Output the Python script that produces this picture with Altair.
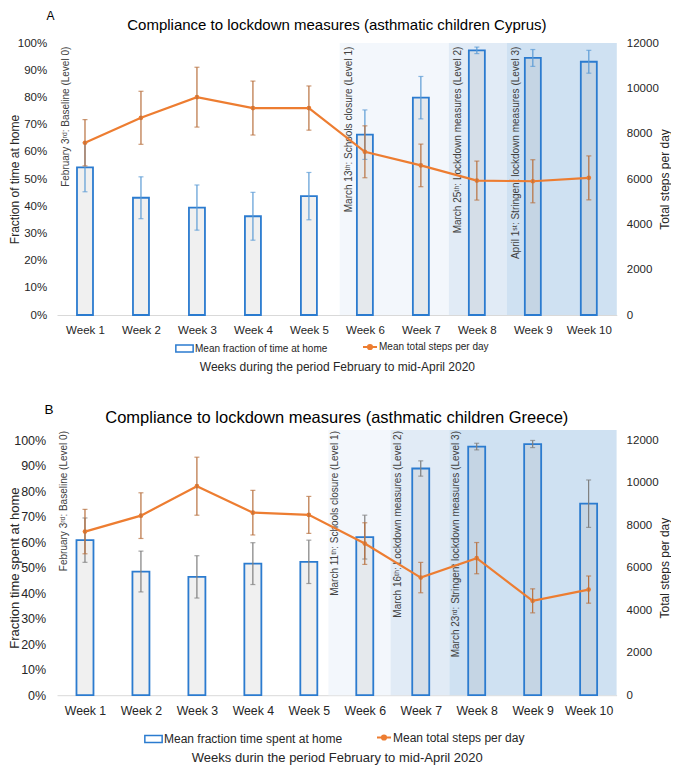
import json
import altair as alt
import pandas as pd

# ---------------- data ----------------
weeks = ["Week 1", "Week 2", "Week 3", "Week 4", "Week 5",
         "Week 6", "Week 7", "Week 8", "Week 9", "Week 10"]

# Panel A (Cyprus)
a_frac = [54.3, 43.1, 39.5, 36.3, 43.7, 66.3, 79.9, 97.3, 94.5, 93.1]
a_frac_err = [9.0, 7.7, 8.3, 8.8, 8.7, 9.1, 7.8, 1.2, 3.1, 4.2]
a_steps = [7600, 8700, 9610, 9130, 9130, 7200, 6600, 5930, 5900, 6050]
a_steps_err = [1020, 1170, 1320, 1190, 975, 1145, 940, 860, 950, 970]
a_region_start = [5.05, 7.0, 8.03]
a_region_end = [7.0, 8.03, 10.0]
a_note_pos = [0.0, 5.05, 7.0, 8.03]
a_notes = ["February 3ʳᵈ: Baseline (Level 0)",
           "March 13ᵗʰ: Schools closure (Level 1)",
           "March 25ᵗʰ: Lockdown measures (Level 2)",
           "April 1ˢᵗ: Stringent lockdown measures (Level 3)"]

# Panel B (Greece)
b_frac = [60.8, 48.5, 46.4, 51.6, 52.3, 62.0, 88.9, 97.5, 98.5, 75.1]
b_frac_err = [8.7, 8.0, 8.3, 8.2, 8.5, 8.6, 3.0, 1.3, 1.4, 9.3]
b_steps = [7700, 8450, 9835, 8590, 8485, 7135, 5535, 6450, 4440, 4970]
b_steps_err = [1045, 1075, 1365, 1050, 870, 980, 715, 735, 565, 640]
b_region_start = [4.85, 5.96, 7.01]
b_region_end = [5.96, 7.01, 10.0]
b_note_pos = [0.0, 4.85, 5.96, 7.01]
b_notes = ["February 3ʳᵈ: Baseline (Level 0)",
           "March 11ᵗʰ: Schools closure (Level 1)",
           "March 16ᵗʰ: Lockdown measures (Level 2)",
           "March 23ʳᵈ: Stringent lockdown measures (Level 3)"]

region_colors = ["#f3f7fc", "#e1ebf6", "#cfe1f2"]
pct_ticks = [0, 0.1, 0.2, 0.3, 0.4, 0.5, 0.6, 0.7, 0.8, 0.9, 1.0]
step_ticks = [0, 2000, 4000, 6000, 8000, 10000, 12000]

BLUE = "#2b7bcf"
ORANGE = "#ed7d31"
BROWN = "#b8703e"
FONT = "Liberation Sans"
TXT = "#262626"


def build_panel(c):
    n = len(weeks)
    pos = [i + 0.5 for i in range(n)]
    df = pd.DataFrame({
        "week": weeks,
        "pos": pos,
        "frac": [v / 100 for v in c["frac"]],
        "frac_lo": [(v - e) / 100 for v, e in zip(c["frac"], c["frac_err"])],
        "frac_hi": [(v + e) / 100 for v, e in zip(c["frac"], c["frac_err"])],
        "steps": c["steps"],
        "steps_lo": [v - e for v, e in zip(c["steps"], c["steps_err"])],
        "steps_hi": [v + e for v, e in zip(c["steps"], c["steps_err"])],
        "bar_series": c["bar_label"],
        "line_series": "Mean total steps per day",
    })
    regions = pd.DataFrame({
        "start": c["rs"], "end": c["re"], "level": ["L1", "L2", "L3"],
        "y0": 0.0, "y1": c["ytop"],
    })
    notes = pd.DataFrame({"pos": c["note_pos"], "text": c["notes"]})
    heads = pd.DataFrame({"t": [c["letter"]], "title": [c["title"]]})

    xscale = alt.Scale(domain=[0, n], nice=False, zero=False, padding=0)
    lscale = alt.Scale(domain=[0, c["ytop"]], nice=False, zero=True, padding=0)
    rscale = alt.Scale(domain=[0, 12000 * c["ytop"]], nice=False, zero=True, padding=0)

    x_axis = alt.Axis(
        values=pos, labelExpr=f"{json.dumps(weeks)}[floor(datum.value)]",
        labelFontSize=c["xfs"], labelPadding=c["xlp"], labelColor=TXT,
        ticks=False, tickSize=0, domain=True, domainColor="#d9d9d9", domainWidth=1,
        grid=False, title=c["xtitle"], titleFontSize=c["xtfs"], titleFontWeight="normal",
        titleColor=TXT, titleY=c["xty"], titleBaseline="middle", labelFlush=False,
    )
    left_axis = alt.Axis(
        values=pct_ticks, format=".0%", labelFontSize=c["lfs"], labelPadding=c["llp"],
        labelColor=TXT, ticks=False, tickSize=0, domain=False, grid=False,
        title=c["ytitle"], titleFontSize=c["ytfs"], titleFontWeight="normal", titleColor=TXT,
        titleAngle=270, titleX=c["ltx"], titleY=c["ty"], titleBaseline="middle",
        titleAlign="center",
    )
    right_axis = alt.Axis(
        orient="right", values=step_ticks, format="d", labelFontSize=c["rfs"],
        labelPadding=c["rlp"], labelColor=TXT, ticks=False, tickSize=0, domain=False,
        grid=False, title="Total steps per day", titleFontSize=c["rtfs"],
        titleFontWeight="normal", titleColor=TXT, titleAngle=270, titleX=c["rtx"],
        titleY=c["ty"], titleBaseline="middle", titleAlign="center",
    )

    X = alt.X("pos:Q", scale=xscale, axis=x_axis)

    def YL(f):
        return alt.Y(f, scale=lscale, axis=left_axis)

    def YR(f):
        return alt.Y(f, scale=rscale, axis=right_axis)

    reg = alt.Chart(regions).mark_rect().encode(
        x=alt.X("start:Q", scale=xscale, axis=x_axis), x2="end:Q",
        y=YL("y0:Q"), y2="y1:Q",
        fill=alt.Fill("level:N", scale=alt.Scale(domain=["L1", "L2", "L3"], range=region_colors), legend=None),
    )
    bar_fill = alt.Chart(df).mark_bar(size=c["barw"], color="#808080", fillOpacity=0.12, strokeWidth=0).encode(
        x=X, y=YL("frac:Q"))
    bar_line = alt.Chart(df).mark_bar(size=c["barw"], filled=False, strokeWidth=1.8).encode(
        x=X, y=YL("frac:Q"),
        stroke=alt.Stroke("bar_series:N", scale=alt.Scale(domain=[c["bar_label"]], range=[BLUE]),
                          legend=alt.Legend(orient="none", legendX=c["lg1x"], legendY=c["lgy"],
                                            direction="horizontal", title=None,
                                            symbolType="M-1,-0.4H1V0.4H-1Z", symbolSize=300,
                                            symbolStrokeWidth=1.5, symbolFillColor="#f0f0f0",
                                            labelFontSize=c["lgfs"], labelColor=TXT, labelOffset=1,
                                            labelLimit=500, padding=0, labelFont=FONT)),
    )
    bar_rule = alt.Chart(df).mark_rule(color=c["barerr"], strokeWidth=1.2).encode(
        x=X, y=YL("frac_lo:Q"), y2="frac_hi:Q")
    bar_cap_lo = alt.Chart(df).mark_tick(color=c["barerr"], orient="horizontal", size=5, thickness=1.2).encode(
        x=X, y=YL("frac_lo:Q"))
    bar_cap_hi = alt.Chart(df).mark_tick(color=c["barerr"], orient="horizontal", size=5, thickness=1.2).encode(
        x=X, y=YL("frac_hi:Q"))
    note_txt = alt.Chart(notes).mark_text(angle=270, align="right", baseline="middle",
                                          fontSize=10, color="#404040", dy=c["notedy"]).encode(
        x=alt.X("pos:Q", scale=xscale, axis=x_axis), y=alt.value(c["notey"]), text="text:N")
    letter_txt = alt.Chart(heads).mark_text(align="center", baseline="top",
                                            fontSize=c["letfs"], color="#000000").encode(
        x=alt.value(c["letx"]), y=alt.value(c["lety"]), text="t:N")
    title_txt = alt.Chart(heads).mark_text(align="center", baseline="top",
                                           fontSize=c["tfs"], color="#000000").encode(
        x=alt.value(c["w"] / 2), y=alt.value(c["titley"]), text="title:N")

    left = alt.layer(reg, bar_fill, bar_line, bar_rule, bar_cap_lo, bar_cap_hi,
                     note_txt, letter_txt, title_txt)

    line = alt.Chart(df).mark_line(strokeWidth=2.2).encode(
        x=X, y=YR("steps:Q"),
        color=alt.Color("line_series:N", scale=alt.Scale(domain=["Mean total steps per day"], range=[ORANGE]),
                        legend=alt.Legend(orient="none", legendX=c["lg2x"], legendY=c["lgy"],
                                          direction="horizontal", title=None,
                                          symbolType="M-1,0H1M-0.3,0A0.3,0.3,0,1,0,0.3,0A0.3,0.3,0,1,0,-0.3,0",
                                          symbolSize=196, symbolStrokeWidth=2,
                                          symbolFillColor=ORANGE,
                                          labelFontSize=c["lgfs"], labelColor=TXT, labelOffset=1,
                                          labelLimit=500, padding=0, labelFont=FONT)),
    )
    pts = alt.Chart(df).mark_point(filled=True, size=22, color=ORANGE, opacity=1).encode(
        x=X, y=YR("steps:Q"))
    st_rule = alt.Chart(df).mark_rule(color=BROWN, strokeWidth=1.2).encode(
        x=X, y=YR("steps_lo:Q"), y2="steps_hi:Q")
    st_cap_lo = alt.Chart(df).mark_tick(color=BROWN, orient="horizontal", size=5, thickness=1.2).encode(
        x=X, y=YR("steps_lo:Q"))
    st_cap_hi = alt.Chart(df).mark_tick(color=BROWN, orient="horizontal", size=5, thickness=1.2).encode(
        x=X, y=YR("steps_hi:Q"))
    right = alt.layer(line, pts, st_rule, st_cap_lo, st_cap_hi)

    return alt.layer(left, right).resolve_scale(y="independent").properties(
        width=c["w"], height=c["h"])


cfgA = dict(
    letter="A", title="Compliance to lockdown measures (asthmatic children Cyprus)",
    frac=a_frac, frac_err=a_frac_err, steps=a_steps, steps_err=a_steps_err,
    rs=a_region_start, re=a_region_end, note_pos=a_note_pos, notes=a_notes,
    bar_label="Mean fraction of time at home", ytitle="Fraction of time at home",
    xtitle="Weeks during the period February to mid-April 2020",
    ytop=1.0, w=559.8, h=272, xfs=11.5, xlp=9, xtfs=12, xty=51, lfs=11.5, llp=10.3,
    ytfs=12, ltx=-43, ty=136, rfs=11.5, rlp=9.5, rtfs=12, rtx=47.8, barw=16, barerr="#5b9bd5",
    lg1x=118, lg2x=305, lgy=296, lgfs=10, notedy=9, notey=3.7, letfs=12, letx=-6.5,
    lety=-32, tfs=15, titley=-25,
)
cfgB = dict(
    letter="B", title="Compliance to lockdown measures (asthmatic children Greece)",
    frac=b_frac, frac_err=b_frac_err, steps=b_steps, steps_err=b_steps_err,
    rs=b_region_start, re=b_region_end, note_pos=b_note_pos, notes=b_notes,
    bar_label="Mean fraction time spent at home", ytitle="Fraction time spent at home",
    xtitle="Weeks durin the period February to mid-April 2020",
    ytop=1.04, w=559.6, h=265.2, xfs=12.3, xlp=9.5, xtfs=13, xty=62.4, lfs=12.5, llp=11.3,
    ytfs=13, ltx=-42.5, ty=137.6, rfs=11.5, rlp=9.5, rtfs=12, rtx=47.8, barw=17, barerr="#7f7f7f",
    lg1x=87, lg2x=319, lgy=299.5, lgfs=12, notedy=7, notey=1, letfs=13.5, letx=-8,
    lety=-26.8, tfs=16.5, titley=-20,
)

panelA = build_panel(cfgA)
panelB = build_panel(cfgB)

chart = alt.concat(panelA, panelB, columns=1, align="none", spacing=31).resolve_scale(
    x="independent", y="independent", color="independent", stroke="independent", fill="independent"
).resolve_legend(color="independent", stroke="independent", fill="independent").properties(
    padding={"left": 0, "top": 2, "right": 0, "bottom": 0}
).configure(font=FONT).configure_view(stroke=None)

chart.save("out.html", embed_options={"renderer": "svg", "actions": False})
